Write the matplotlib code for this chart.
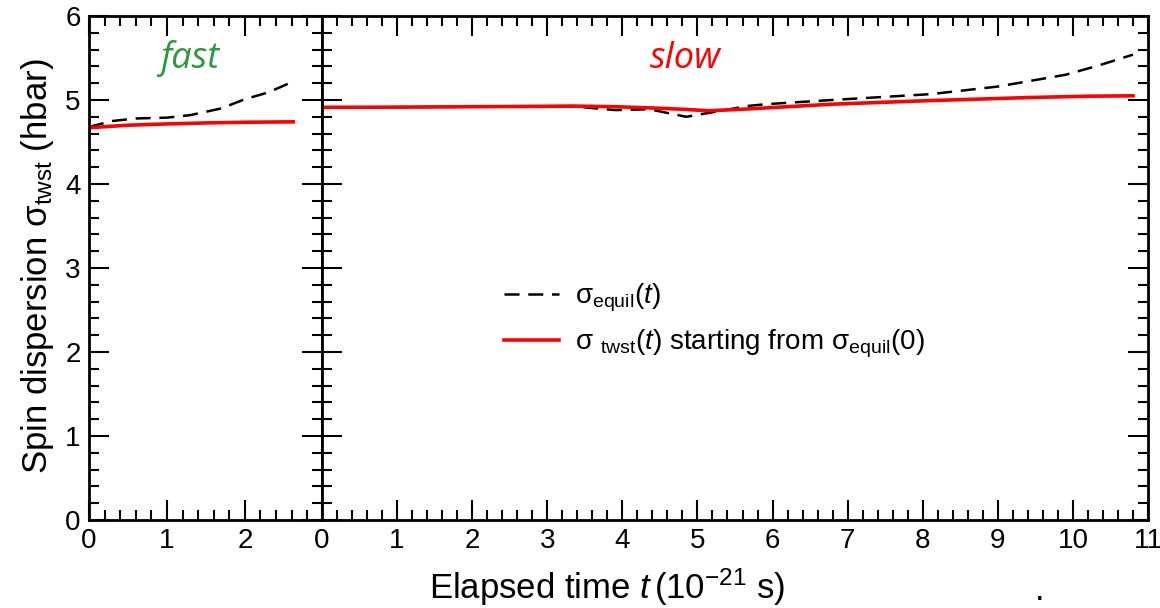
import matplotlib
matplotlib.use("Agg")
import matplotlib.pyplot as plt
from matplotlib.ticker import MultipleLocator
from matplotlib.lines import Line2D

plt.rcParams['font.family'] = ['Liberation Sans', 'DejaVu Sans']
plt.rcParams['mathtext.fontset'] = 'custom'
plt.rcParams['mathtext.rm'] = 'Liberation Sans'
plt.rcParams['mathtext.it'] = 'Liberation Sans:italic'
plt.rcParams['mathtext.bf'] = 'Liberation Sans:bold'

# fast panel data
fast_t_equil = [0, 0.3, 0.6, 1.0, 1.3, 1.7, 2.0, 2.3, 2.62]
fast_equil = [4.68, 4.75, 4.78, 4.79, 4.82, 4.90, 5.01, 5.09, 5.22]
fast_t_twst = [0, 0.5, 1.0, 1.5, 2.0, 2.62]
fast_twst = [4.67, 4.70, 4.715, 4.727, 4.735, 4.74]

# slow panel data
slow_t_equil = [0, 1.0, 2.0, 3.0, 3.4, 3.9, 4.36, 4.85, 5.3, 5.68, 5.91, 6.79, 8.11, 9.0, 9.45, 9.9, 10.34, 10.8]
slow_equil = [4.91, 4.915, 4.92, 4.925, 4.92, 4.88, 4.89, 4.80, 4.87, 4.93, 4.95, 5.00, 5.07, 5.16, 5.23, 5.30, 5.41, 5.54]
slow_t_twst = [0, 1.0, 2.0, 3.0, 3.33, 3.9, 4.4, 4.8, 5.15, 5.6, 6.79, 8.0, 9.44, 10.2, 10.8]
slow_twst = [4.913, 4.915, 4.92, 4.925, 4.928, 4.92, 4.905, 4.89, 4.872, 4.89, 4.95, 4.99, 5.03, 5.045, 5.05]

fig = plt.figure(figsize=(11.6, 6.08), dpi=100)
W, H = 1160, 608
x0, xm, x1 = 89, 322, 1148
ytop, ybot = 16, 520
axL = fig.add_axes([x0 / W, 1 - ybot / H, (xm - x0) / W, (ybot - ytop) / H])
axR = fig.add_axes([xm / W, 1 - ybot / H, (x1 - xm) / W, (ybot - ytop) / H])

red = '#ff0000'
for ax in (axL, axR):
    for s in ax.spines.values():
        s.set_linewidth(2.0)
    ax.set_ylim(0, 6)
    ax.yaxis.set_major_locator(MultipleLocator(1))
    ax.yaxis.set_minor_locator(MultipleLocator(0.2))
    ax.xaxis.set_major_locator(MultipleLocator(1))
    ax.xaxis.set_minor_locator(MultipleLocator(0.2))
    ax.tick_params(which='both', direction='in', top=True, right=True, width=1.5, labelsize=20, pad=6)
    ax.tick_params(which='major', length=14.4)
    ax.tick_params(which='minor', length=7.2)

axL.set_xlim(0, 2.99)
axL.set_xticks([0, 1, 2])
axR.set_xlim(0, 11)
axR.tick_params(labelleft=False)

axL.plot(fast_t_equil, fast_equil, color='black', lw=1.8, dashes=(6, 3.5))
axL.plot(fast_t_twst, fast_twst, color=red, lw=2.6)
axR.plot(slow_t_equil, slow_equil, color='black', lw=1.8, dashes=(6, 3.5))
axR.plot(slow_t_twst, slow_twst, color=red, lw=2.6)

axL.text(0.43, 0.915, 'fast', transform=axL.transAxes, ha='center', va='center',
         fontsize=26, style='italic', color='#2a9a3a', family=['Open Sans', 'DejaVu Sans'])
axR.text(0.44, 0.915, 'slow', transform=axR.transAxes, ha='center', va='center',
         fontsize=26, style='italic', color=red, family=['Open Sans', 'DejaVu Sans'])

handles = [Line2D([], [], color='black', lw=1.8, dashes=(6, 3.5)),
           Line2D([], [], color=red, lw=2.6)]
labels = [r'σ$_{\mathrm{equil}}$($\mathit{t}$)',
          r'σ $_{\mathrm{twst}}$($\mathit{t}$) starting from σ$_{\mathrm{equil}}$(0)']
axR.legend(handles, labels, loc='center left', bbox_to_anchor=(0.19, 0.395),
           frameon=False, fontsize=20, handlelength=2.0, handletextpad=0.55,
           labelspacing=0.5)

fig.text(38 / W, 1 - 266 / H, r'Spin dispersion σ$_{\mathrm{twst}}$ (hbar)', rotation=90,
         ha='center', va='center', fontsize=25)
fig.text(607 / W, 1 - 587 / H, r'Elapsed time $\mathit{t}\,$(10$^{-21}$ s)',
         ha='center', va='center', fontsize=25)
fig.text(1040 / W, 1 - 590 / H, '.', ha='center', va='center', fontsize=25)

fig.savefig('out.png', dpi=100)
